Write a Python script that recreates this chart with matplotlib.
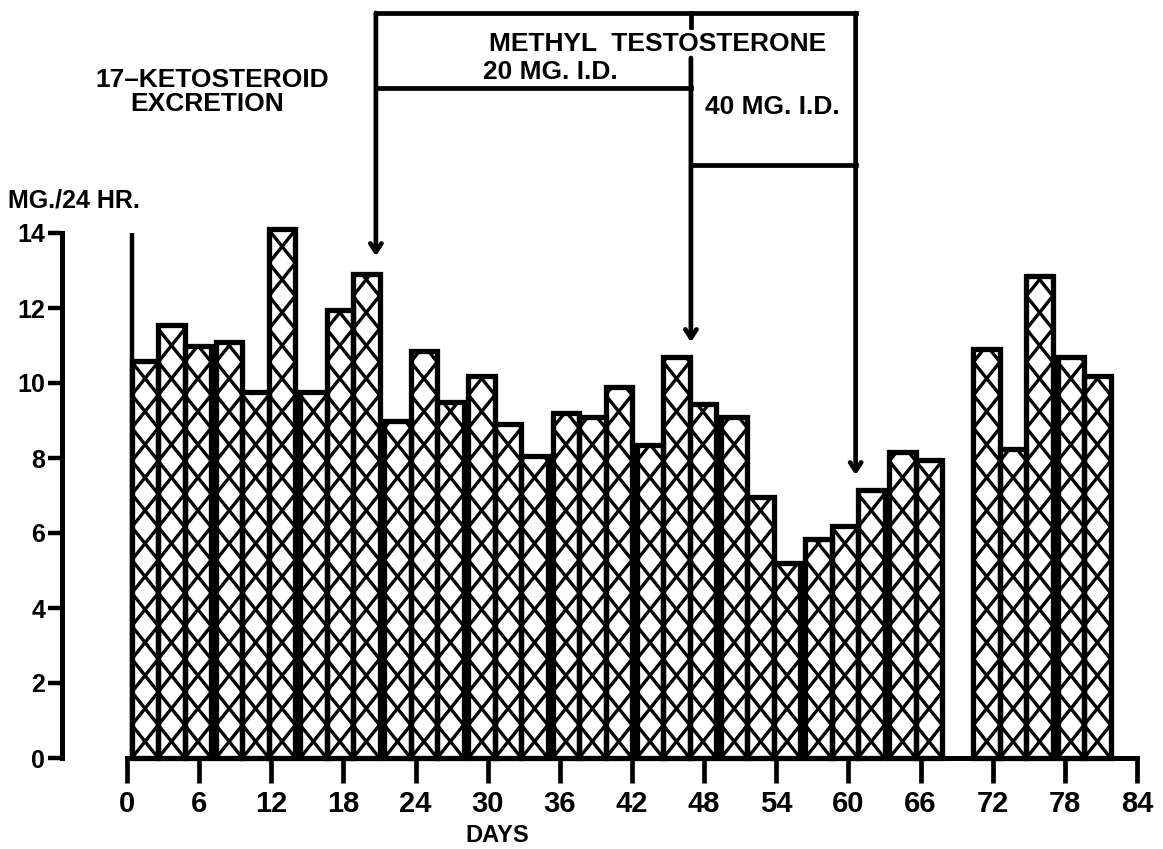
import matplotlib
matplotlib.use("Agg")
import matplotlib.pyplot as plt
from matplotlib.collections import LineCollection
from matplotlib import font_manager as fm
import numpy as np

# ---------------- data ----------------
# week number (0-based) and collection period within the week (0,1,2)
week = [0, 0, 0, 1, 1, 1, 2, 2, 2, 3, 3, 3, 4, 4, 4, 5, 5, 5,
        6, 6, 6, 7, 7, 7, 8, 8, 8, 9, 9, 10, 10, 10, 11, 11]
period = [0, 1, 2, 0, 1, 2, 0, 1, 2, 0, 1, 2, 0, 1, 2, 0, 1, 2,
          0, 1, 2, 0, 1, 2, 0, 1, 2, 0, 1, 0, 1, 2, 0, 1]
ketosteroid = [10.6, 11.55, 11.0, 11.1, 9.75, 14.1, 9.75, 11.95, 12.9,
               9.0, 10.85, 9.5, 10.2, 8.9, 8.05, 9.2, 9.1, 9.9,
               8.35, 10.7, 9.45, 9.1, 6.95, 5.2, 5.85, 6.2, 7.15,
               8.15, 7.95, 10.9, 8.25, 12.85, 10.7, 10.2]
x_ticks = [0, 6, 12, 18, 24, 30, 36, 42, 48, 54, 60, 66, 72, 78, 84]
y_ticks = [0, 2, 4, 6, 8, 10, 12, 14]
# treatment days: start of 20 mg, start of 40 mg, end of treatment
dose_20_start = 20.7
dose_40_start = 46.9
dose_end = 60.6
title_lines = ["17\u2013KETOSTEROID", "EXCRETION"]
y_label = "MG./24 HR."
x_label = "DAYS"
drug_label = "METHYL  TESTOSTERONE"
dose_20_label = "20 MG. I.D."
dose_40_label = "40 MG. I.D."

# ---------------- fonts ----------------
names = {f.name for f in fm.fontManager.ttflist}
fam = "Liberation Sans Narrow" if "Liberation Sans Narrow" in names else "Liberation Sans"
plt.rcParams["font.family"] = [fam, "DejaVu Sans"]
plt.rcParams["font.weight"] = "bold"

W, H = 1163, 849
fig = plt.figure(figsize=(W / 100, H / 100), dpi=100)
fig.patch.set_facecolor("white")

# axes: day 0 at px 127, day 84 at px 1137; y 0 at px 758, top of fig is y=758/37.5
px_per_unit = 37.5
ytop = 758 / px_per_unit
ax = fig.add_axes([127 / W, (H - 758) / H, (1137 - 127) / W, 758 / H])
ax.set_xlim(0, 84)
ax.set_ylim(0, ytop)
ax.set_facecolor("none")

# ---------------- bars ----------------
bar_w = 2.2
group_off = 0.4
lefts = np.array([7 * w + group_off + p * bar_w for w, p in zip(week, period)])
vals = np.array(ketosteroid)

fills = ax.bar(lefts, vals, width=bar_w, align="edge", color="white",
               edgecolor="none", zorder=2)

P = 33 / px_per_unit  # vertical period of the cross-hatch
for rect, L, v in zip(fills, lefts, vals):
    R = L + bar_w
    segs = []
    k = 0
    while k * P < v + P:
        segs.append([(L, k * P), (R, (k + 1) * P)])
        segs.append([(L, (k + 1) * P), (R, k * P)])
        k += 1
    lc = LineCollection(segs, colors="black", linewidths=2.4, zorder=3,
                        capstyle="butt")
    ax.add_collection(lc)
    lc.set_clip_path(rect)

ax.bar(lefts, vals, width=bar_w, align="edge", fill=False,
       edgecolor="black", linewidth=3.8, zorder=4, joinstyle="miter",
       clip_on=False)

# vertical line at start of record up to 14
ax.vlines(lefts[0], 0, 14, colors="black", linewidth=3.2, zorder=5)

# ---------------- axes styling ----------------
for s in ["top", "right"]:
    ax.spines[s].set_visible(False)
ax.spines["left"].set_position(("outward", 65 * 0.72))
ax.spines["left"].set_bounds(0, 14)
ax.spines["bottom"].set_bounds(0, 84)
for s in ["left", "bottom"]:
    ax.spines[s].set_linewidth(3.6)
    ax.spines[s].set_capstyle("projecting")

ax.set_xticks(x_ticks)
ax.set_xticklabels([str(t) for t in x_ticks])
ax.set_yticks(y_ticks)
ax.set_yticklabels([str(t) for t in y_ticks])
ax.tick_params(axis="x", direction="out", length=18, width=3.4, pad=5,
               labelsize=21)
ax.tick_params(axis="y", direction="out", length=10, width=3.2, pad=2,
               labelsize=18)

# ---------------- treatment bracket ----------------
lw = 3.4
y_top_line = (758 - 13) / px_per_unit
y_20_line = (758 - 88) / px_per_unit
y_40_line = (758 - 165) / px_per_unit
kw = dict(color="black", linewidth=lw, clip_on=False, zorder=6,
          solid_capstyle="projecting")
ax.plot([dose_20_start, dose_end], [y_top_line, y_top_line], **kw)
ax.plot([dose_20_start, dose_40_start], [y_20_line, y_20_line], **kw)
ax.plot([dose_40_start, dose_end], [y_40_line, y_40_line], **kw)
# short stub of the middle divider above the title text
ax.plot([dose_40_start, dose_40_start],
        [y_top_line, (758 - 27) / px_per_unit], **kw)

arrow_tips = [(dose_20_start, y_top_line, (758 - 256) / px_per_unit),
              (dose_40_start, (758 - 58) / px_per_unit, (758 - 342) / px_per_unit),
              (dose_end, y_top_line, (758 - 475) / px_per_unit)]
for x, y0, y1 in arrow_tips:
    ax.annotate("", xy=(x, y1), xytext=(x, y0),
                arrowprops=dict(arrowstyle="->,head_length=0.6,head_width=0.4",
                                color="black", lw=lw, shrinkA=0, shrinkB=0),
                annotation_clip=False, zorder=6)

# ---------------- texts ----------------
def fpos(x, y):
    return x / W, 1 - y / H

fig.text(*fpos(212, 80), title_lines[0], ha="center", va="center",
         fontsize=19, fontweight="bold")
fig.text(*fpos(207, 104), title_lines[1], ha="center", va="center",
         fontsize=19, fontweight="bold")
fig.text(*fpos(8, 200), y_label, ha="left", va="center",
         fontsize=18, fontweight="bold")
fig.text(*fpos(658, 44), drug_label, ha="center", va="center",
         fontsize=19, fontweight="bold")
fig.text(*fpos(550, 72), dose_20_label, ha="center", va="center",
         fontsize=19, fontweight="bold")
fig.text(*fpos(772, 107), dose_40_label, ha="center", va="center",
         fontsize=19, fontweight="bold")
fig.text(*fpos(497, 836), x_label, ha="center", va="center",
         fontsize=17, fontweight="bold")

fig.savefig("out.png", dpi=100, facecolor="white")
